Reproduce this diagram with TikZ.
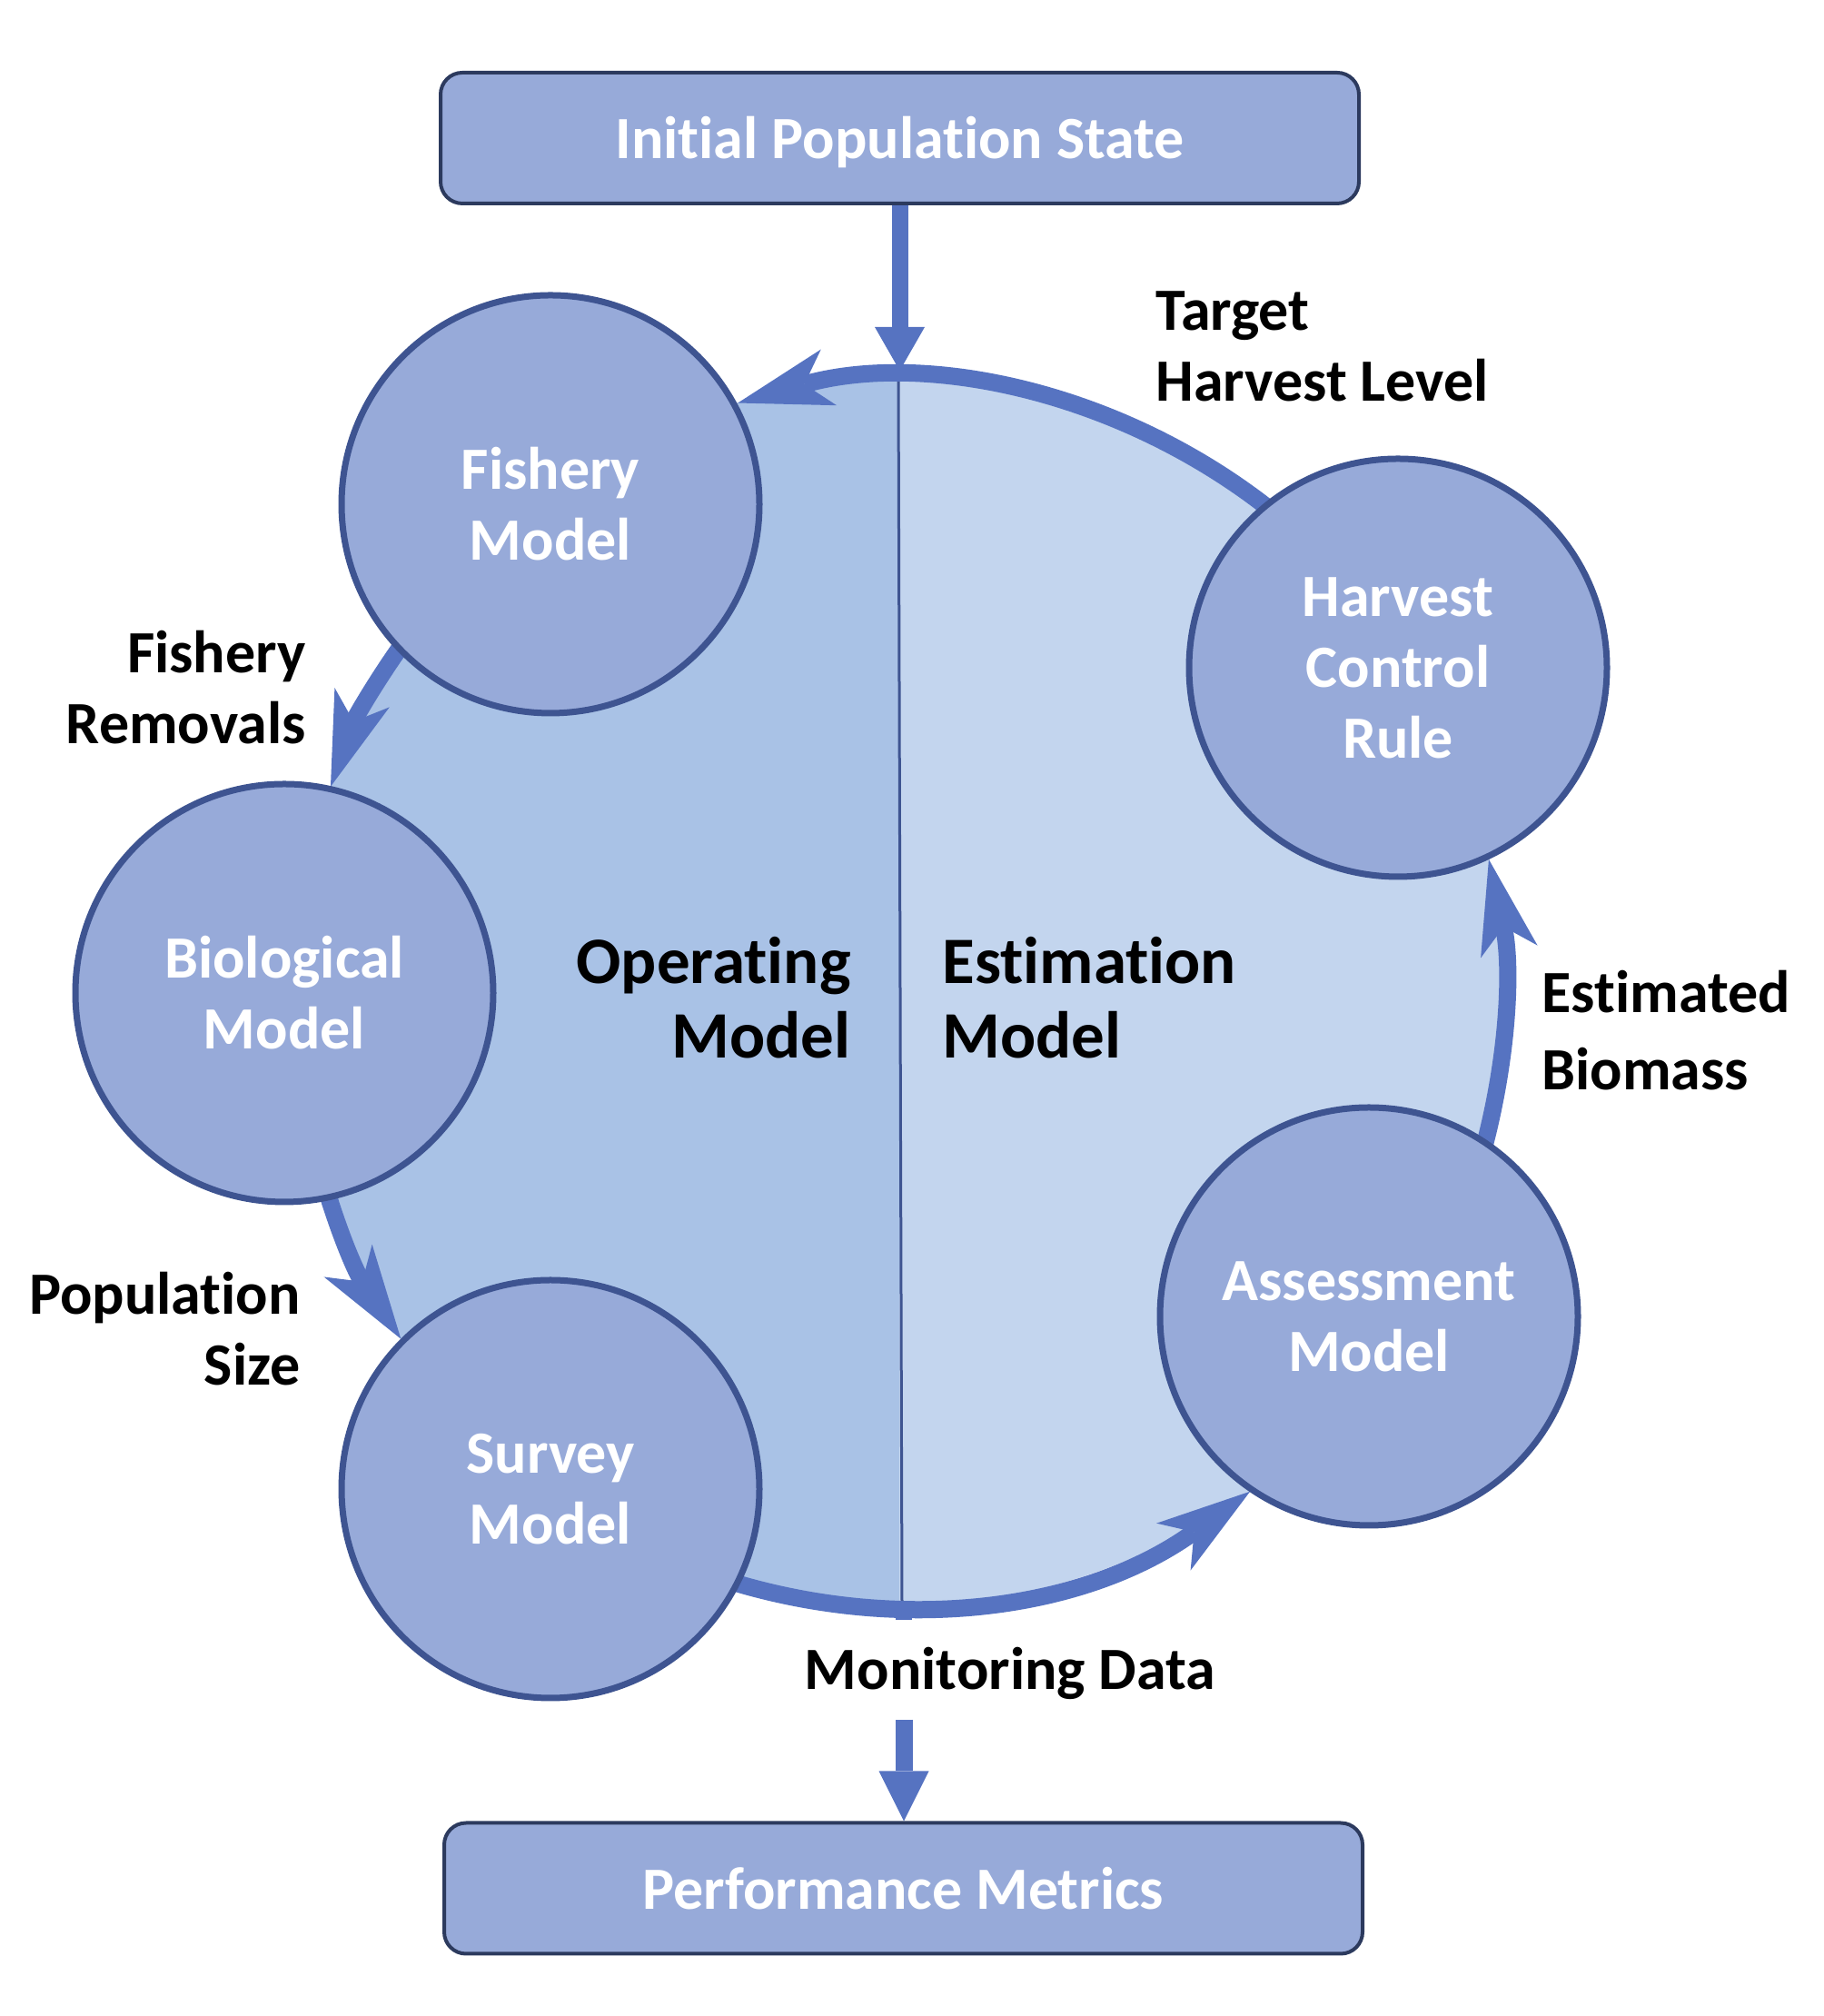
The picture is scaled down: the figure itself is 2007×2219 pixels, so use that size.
\documentclass[tikz,border=0pt]{standalone}
\usepackage{fontspec}
\setmainfont{Carlito}[Ligatures={NoCommon,NoContextual}]
\usetikzlibrary{arrows.meta}
\definecolor{flowc}{HTML}{5673C1}
\definecolor{circfill}{HTML}{97AAD9}
\definecolor{circline}{HTML}{3E5491}
\definecolor{opfill}{HTML}{A9C2E6}
\definecolor{esfill}{HTML}{C3D5EE}
\definecolor{boxline}{HTML}{2C3A5E}
\begin{document}
\begin{tikzpicture}[x=0.5pt,y=0.5pt,
  circ/.style={circle, draw=circline, line width=3.5pt, fill=circfill, minimum size=230pt, inner sep=0pt, text=white, align=center, font=\bfseries\fontsize{33}{39}\selectfont},
  bigbox/.style={rectangle, rounded corners=12pt, draw=boxline, line width=2pt, fill=circfill, minimum width=505.5pt, minimum height=72pt, inner sep=0pt, text=white, text height=22.8pt, text depth=0pt, font=\bfseries\fontsize{33}{39}\selectfont},
  flow/.style={draw=flowc, line width=9.5pt, -{Stealth[length=52pt,width=32pt,inset=14pt,line width=0pt]}},
  straightflow/.style={draw=flowc, line width=9pt, -{Triangle[length=24pt,width=27.5pt,line width=0pt]}},
  lbl/.style={inner sep=0pt, font=\bfseries\fontsize{33}{39}\selectfont},
  biglbl/.style={inner sep=0pt, font=\bfseries\fontsize{36.5}{41}\selectfont},
  divider/.style={draw=circline, line width=1.5pt}
]
\useasboundingbox (0,0) rectangle (2007,2219);
\coordinate (C) at (990,1126);
% halves
\fill[opfill] (990,1800) arc[start angle=90, end angle=270, x radius=665, y radius=674] -- cycle;
\fill[esfill] (990,452) arc[start angle=-90, end angle=90, x radius=665, y radius=674] -- cycle;
\draw[divider] (989,1800) -- (993,452);
% boxes
\node[bigbox] (ips) at (990.5,2067) {Initial Population State};
\node[bigbox] (pm) at (994.5,140.5) {Performance Metrics};
% arc start points
\path (C) ++(50:665 and 674) coordinate (a1);
\path (C) ++(140:665 and 674) coordinate (a2);
\path (C) ++(190:665 and 674) coordinate (a3);
\path (C) ++(240:665 and 674) coordinate (a4);
\path (C) ++(-20:665 and 674) coordinate (a5);
% arcs
\draw[flow] (a1) arc[start angle=50, end angle=105.5, x radius=665, y radius=674];
\draw[flow] (a2) arc[start angle=140, end angle=160.3, x radius=665, y radius=674];
\draw[flow] (a3) arc[start angle=190, end angle=214.4, x radius=665, y radius=674];
\draw[flow] (a4) arc[start angle=240, end angle=305.5, x radius=665, y radius=674];
\draw[flow] (a5) arc[start angle=-20, end angle=12.6, x radius=665, y radius=674];
% bottom stub
\fill[flowc] (986,436) rectangle (1004,452);
% circles
\node[circ] (fish) at (606,1664) {Fishery\\Model};
\node[circ] (bio) at (313,1126) {Biological\\Model};
\node[circ] (surv) at (606,580) {Survey\\Model};
\node[circ] (hcr) at (1539,1484) {Harvest\\Control\\Rule};
\node[circ] (asmt) at (1507,770) {Assessment\\Model};
% top arrow
\coordinate (toptip) at (990.5,1811);
\draw[straightflow] (ips.south) -- (toptip);
% labels
\node[lbl, anchor=west, align=left] (thl) at (1272,1838) {Target\\Harvest Level};
\node[lbl, anchor=east, align=right] (frm) at (337,1462) {Fishery\\Removals};
\node[lbl, anchor=east, align=right] (pops) at (331,756) {Population\\Size};
\node[inner sep=0pt, font=\bfseries\fontsize{33}{42.5}\selectfont, anchor=west, align=left] (eb) at (1697,1085) {Estimated\\Biomass};
\node[biglbl, anchor=east, align=right] (opm) at (937,1121) {Operating\\Model};
\node[biglbl, anchor=west, align=left] (esm) at (1037,1121) {Estimation\\Model};
\node[lbl, anchor=base] (mon) at (1112,359) {Monitoring Data};
% bottom arrow
\coordinate (mstart) at (995,326);
\draw[draw=flowc, line width=9.5pt, -{Triangle[length=27.5pt,width=27.5pt,line width=0pt]}] (mstart) -- (mstart |- pm.north);
\end{tikzpicture}
\end{document}
